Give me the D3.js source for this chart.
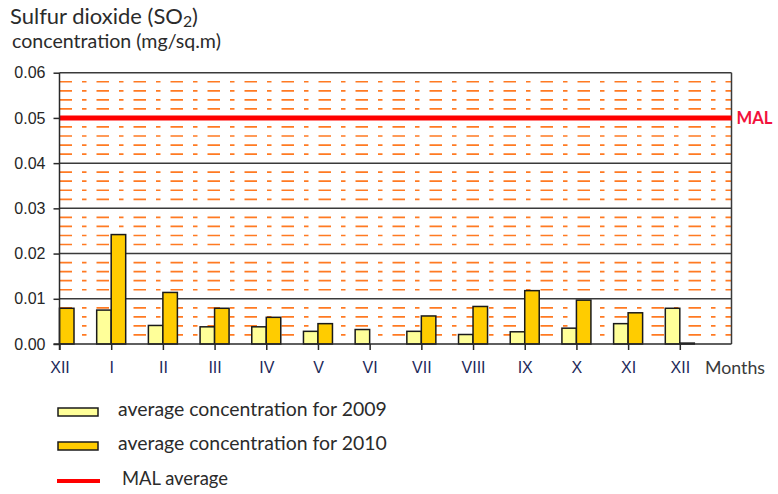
<!DOCTYPE html>
<html>
<head>
<meta charset="utf-8">
<script src="https://cdn.jsdelivr.net/npm/d3@7"></script>
<style>
  html, body { margin: 0; padding: 0; background: #fff; }
  svg { display: block; }
</style>
</head>
<body>
<svg id="chart" width="778" height="494"></svg>
<script>
// ---------- data ----------
const months = ["XII", "I", "II", "III", "IV", "V", "VI", "VII", "VIII", "IX", "X", "XI", "XII"];
const conc2009 = [null, 0.0075, 0.0041, 0.0038, 0.0038, 0.0028, 0.0032, 0.0028, 0.0021, 0.0027, 0.0035, 0.0045, 0.0079];
const conc2010 = [0.0079, 0.0242, 0.0114, 0.0079, 0.0059, 0.0045, null, 0.0062, 0.0083, 0.0118, 0.0097, 0.0069, 0.0002];
const malValue = 0.05;
const yTicks = [0, 0.01, 0.02, 0.03, 0.04, 0.05, 0.06];
const minorTicks = [0.002, 0.004, 0.006, 0.008, 0.012, 0.014, 0.016, 0.018, 0.022, 0.024, 0.026, 0.028,
                    0.032, 0.034, 0.036, 0.038, 0.042, 0.044, 0.046, 0.048, 0.052, 0.054, 0.056, 0.058];
const legendItems = ["average concentration for 2009", "average concentration for 2010", "MAL average"];

(function () {
// ---------- layout ----------
const svg = d3.select("#chart");
const pL = 59.5, pR = 731.5, pT = 72.7, pB = 344;
const x = d3.scaleLinear().domain([0, 13]).range([pL, pR]);
const y = d3.scaleLinear().domain([0, 0.06]).range([pB, pT]);
const barW = 14.5;
const calibri = "Lato, 'Noto Sans', sans-serif";
const arial = "'Liberation Sans', Arial, sans-serif";

function fitWidth(sel, w) {
  const node = sel.node();
  const fs = parseFloat(sel.attr("font-size"));
  const len = node.getComputedTextLength();
  if (len > 0) sel.attr("font-size", (fs * w / len).toFixed(2));
}

// minor dashed lines
svg.append("g").selectAll("line").data(minorTicks).join("line")
  .attr("x1", pL).attr("x2", pR)
  .attr("y1", d => y(d)).attr("y2", d => y(d))
  .attr("stroke", "#ff7a22").attr("stroke-width", 1.7)
  .attr("stroke-dasharray", "12.5,10,4.5,10");

// major grid lines
svg.append("g").selectAll("line").data(yTicks.filter(d => d > 0)).join("line")
  .attr("x1", pL).attr("x2", pR)
  .attr("y1", d => y(d)).attr("y2", d => y(d))
  .attr("stroke", "#3a3a3a").attr("stroke-width", 1.5);

// right border
svg.append("line")
  .attr("x1", pR).attr("x2", pR).attr("y1", y(0.06)).attr("y2", y(0))
  .attr("stroke", "#3a3a3a").attr("stroke-width", 1.5);

// bars 2009
svg.append("g").selectAll("rect")
  .data(conc2009.map((v, i) => ({ v, i })).filter(d => d.v != null)).join("rect")
  .attr("x", d => x(d.i) - barW).attr("width", barW)
  .attr("y", d => y(d.v)).attr("height", d => y(0) - y(d.v))
  .attr("fill", "#ffff99").attr("stroke", "#1a1a1a").attr("stroke-width", 1.5);

// bars 2010
svg.append("g").selectAll("rect")
  .data(conc2010.map((v, i) => ({ v, i })).filter(d => d.v != null)).join("rect")
  .attr("x", d => x(d.i)).attr("width", barW)
  .attr("y", d => y(d.v)).attr("height", d => y(0) - y(d.v))
  .attr("fill", "#ffcc00").attr("stroke", "#1a1a1a").attr("stroke-width", 1.5);

// MAL line
svg.append("line")
  .attr("x1", pL).attr("x2", pR)
  .attr("y1", y(malValue)).attr("y2", y(malValue))
  .attr("stroke", "#ff0000").attr("stroke-width", 5);
const mal = svg.append("text")
  .attr("x", pR + 5).attr("y", y(malValue)).attr("dy", "0.36em")
  .attr("font-family", calibri).attr("font-weight", "bold").attr("font-size", 18)
  .attr("fill", "#f2123c").text("MAL");
fitWidth(mal, 36);

// y axis
const yAxis = svg.append("g").attr("transform", `translate(${pL},0)`)
  .call(d3.axisLeft(y).tickValues(yTicks).tickFormat(d3.format(".2f")).tickSize(6).tickSizeOuter(0).tickPadding(8));
yAxis.select(".domain").attr("stroke", "#2a2a2a").attr("stroke-width", 1.5)
  .attr("d", `M0,${pT}V${pB + 6}`);
yAxis.selectAll(".tick line").attr("stroke", "#2a2a2a").attr("stroke-width", 1.5);
yAxis.selectAll(".tick text").attr("font-family", arial).attr("font-size", 16).attr("fill", "#262626");

// x axis
const xAxis = svg.append("g").attr("transform", `translate(0,${pB})`)
  .call(d3.axisBottom(x).tickValues(d3.range(months.length)).tickFormat(i => months[i])
    .tickSize(6).tickSizeOuter(0).tickPadding(12));
xAxis.select(".domain").attr("stroke", "#2a2a2a").attr("stroke-width", 1.5)
  .attr("d", `M${pL - 6},0H${pR}`);
xAxis.selectAll(".tick line").attr("stroke", "#2a2a2a").attr("stroke-width", 1.5);
xAxis.selectAll(".tick text").attr("font-family", arial).attr("font-size", 16).attr("fill", "#22295a");

const monthsLbl = svg.append("text")
  .attr("x", 705).attr("y", 374)
  .attr("font-family", calibri).attr("font-size", 18).attr("fill", "#3a3a3a").text("Months");
fitWidth(monthsLbl, 60);

// title
const title = svg.append("text").attr("x", 10).attr("y", 24)
  .attr("font-family", calibri).attr("font-size", 20).attr("fill", "#2b2b2b");
title.append("tspan").text("Sulfur dioxide (SO");
title.append("tspan").attr("font-size", "0.72em").attr("dy", 3).text("2");
title.append("tspan").attr("dy", -3).text(")");
fitWidth(title, 188);

const subtitle = svg.append("text").attr("x", 12).attr("y", 48)
  .attr("font-family", calibri).attr("font-size", 17).attr("fill", "#2b2b2b")
  .text("concentration (mg/sq.m)");
fitWidth(subtitle, 209);

// legend
const legendY = [412, 446, 481];
const lg = svg.append("g");
lg.append("rect").attr("x", 58).attr("y", legendY[0] - 4).attr("width", 40).attr("height", 8)
  .attr("fill", "#ffff99").attr("stroke", "#1a1a1a").attr("stroke-width", 1.5);
lg.append("rect").attr("x", 58).attr("y", legendY[1] - 4).attr("width", 40).attr("height", 8)
  .attr("fill", "#ffcc00").attr("stroke", "#1a1a1a").attr("stroke-width", 1.5);
lg.append("line").attr("x1", 57).attr("x2", 100).attr("y1", legendY[2]).attr("y2", legendY[2])
  .attr("stroke", "#ff0000").attr("stroke-width", 4);
const legendX = [118, 118, 122];
const legendW = [269, 269, 106];
const legendBase = [416, 450, 485];
legendItems.forEach((t, i) => {
  const tx = lg.append("text").attr("x", legendX[i]).attr("y", legendBase[i])
    .attr("font-family", calibri).attr("font-size", 19).attr("fill", "#2b2b2b").text(t);
  fitWidth(tx, legendW[i]);
});
})();
</script>
</body>
</html>
